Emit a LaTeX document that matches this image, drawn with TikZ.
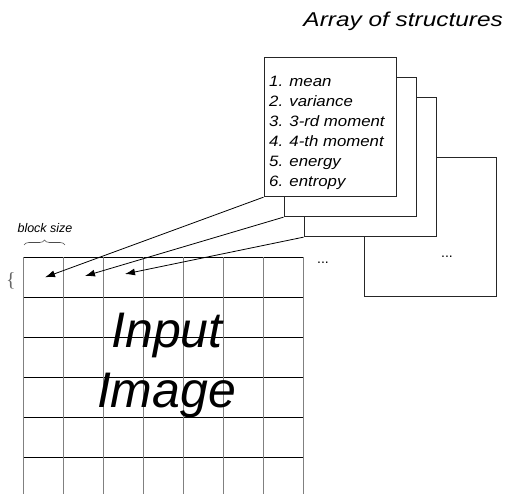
\documentclass[tikz,border=0pt]{standalone}
\usepackage{fontspec}
\setmainfont{Liberation Sans}
\newfontfamily\serifbrace{Liberation Serif}
\usetikzlibrary{arrows.meta,decorations.pathreplacing}
\begin{document}
\begin{tikzpicture}[x=1pt,y=-1pt,
  structbox/.style={draw=black!85,line width=0.9pt,fill=white,minimum width=132pt,minimum height=139.4pt,inner sep=0pt},
  listtext/.style={anchor=base west,inner sep=0pt,font=\fontsize{15}{18}\selectfont\itshape},
  gridv/.style={draw=black!50,line width=1.6pt},
  gridh/.style={draw=black,line width=0.9pt},
  ptr/.style={draw=black,line width=0.8pt,-{Latex[length=10pt,width=7pt]}},
  dots/.style={inner sep=0pt,anchor=base,font=\fontsize{14}{16}\selectfont}]
\useasboundingbox[fill=white] (0,0) rectangle (512,494);
% title
\node[anchor=base east,inner sep=0pt,font=\fontsize{20}{22}\selectfont\itshape] (title) at (503,26.7) {\scalebox{1.22}[1]{Array of structures}};
% stacked boxes (back to front)
\node[structbox] (b4) at (430,227) {};
\node[structbox] (b3) at (370,167) {};
\node[structbox] (b2) at (350,147) {};
\node[structbox] (b1) at (330,127) {};
\node[listtext] (l1) at (269,86.7) {\scalebox{1.12}[1]{1. mean}};
\node[listtext] (l2) at (269,106.7) {\scalebox{1.12}[1]{2. variance}};
\node[listtext] (l3) at (269,126.7) {\scalebox{1.12}[1]{3. 3-rd moment}};
\node[listtext] (l4) at (269,146.7) {\scalebox{1.12}[1]{4. 4-th moment}};
\node[listtext] (l5) at (269,166.7) {\scalebox{1.12}[1]{5. energy}};
\node[listtext] (l6) at (269,186.7) {\scalebox{1.12}[1]{6. entropy}};
% dots
\node[dots] (d1) at (323,263.3) {...};
\node[dots] (d2) at (447,257.3) {...};
% grid
\foreach \i in {0,...,5} {
  \draw[gridh] (23.5,257.3+40*\i) -- (303.5,257.3+40*\i);
}
\foreach \i in {0,...,7} {
  \draw[gridv] (23.5+40*\i,257.3) -- (23.5+40*\i,494);
}
% image text
\node[inner sep=0pt,anchor=base,font=\fontsize{50}{60}\selectfont\itshape] (inp) at (167,348) {Input};
\node[inner sep=0pt,anchor=base,font=\fontsize{50}{60}\selectfont\itshape] (img) at (166.5,408) {Image};
% block size label and braces
\node[inner sep=0pt,anchor=base,font=\fontsize{12.5}{14}\selectfont\itshape] (bs) at (45,233) {block size};
\coordinate (brL) at (24,245);
\coordinate (brR) at (65,245);
\draw[draw=black!70,line width=0.6pt,decorate,decoration={brace,amplitude=5pt}] (brL) -- (brR);
\node[inner sep=0pt,text=black!60,font=\serifbrace\fontsize{20}{20}\selectfont] (lbr) at (11,281) {\{};
% cell targets
\coordinate (c1) at (45,277.3);
\coordinate (c2) at (85,276);
\coordinate (c3) at (125,274);
\draw[ptr] (b1.south west) -- (c1);
\draw[ptr] (b2.south west) -- (c2);
\draw[ptr] (b3.south west) -- (c3);
\end{tikzpicture}
\end{document}
